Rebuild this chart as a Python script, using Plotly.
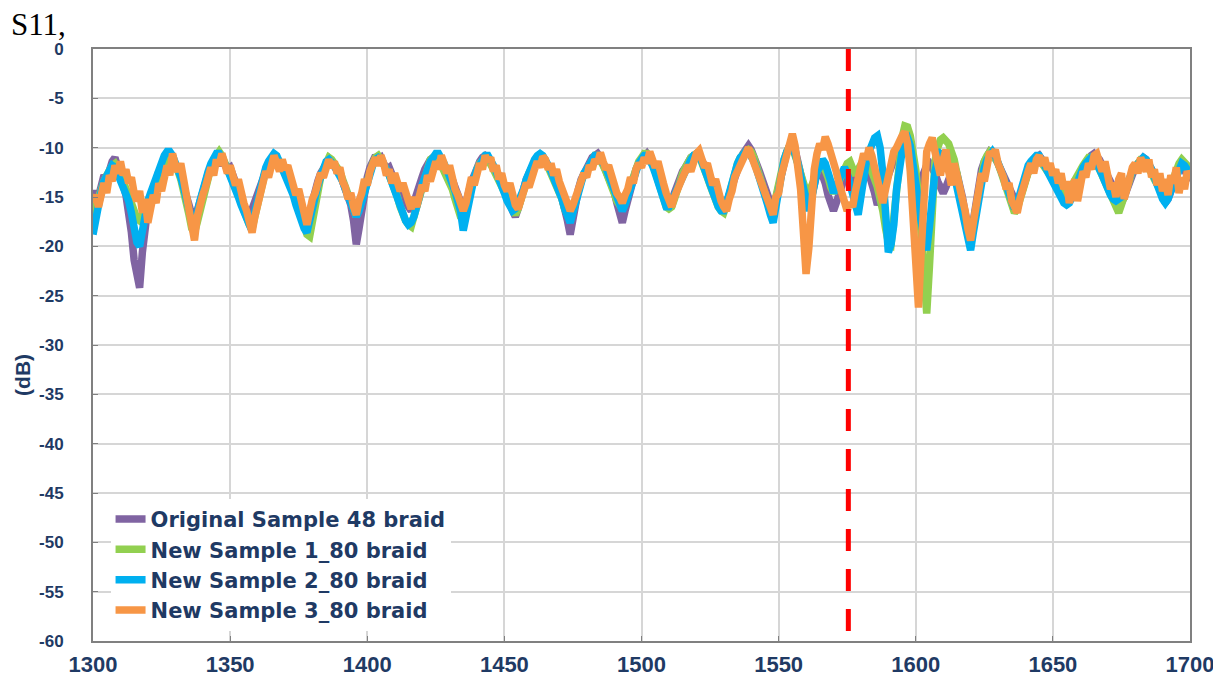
import plotly.graph_objects as go

# Frequency axis (MHz), 1 MHz step
freq_mhz = list(range(1300, 1701))

gps_l1_mhz = 1575.42

series_names = ["Original Sample 48 braid", "New Sample 1_80 braid",
                "New Sample 2_80 braid", "New Sample 3_80 braid"]

original_48 = [
    -15.2, -14.4, -15.0, -13.4, -12.8, -13.2, -12.0, -11.4, -11.0, -12.2,
    -12.6, -13.8, -14.8, -16.4, -18.6, -21.4, -23.4, -24.2, -20.6, -17.2,
    -16.0, -15.2, -14.0, -13.6, -12.4, -12.8, -11.6, -11.2, -11.8, -11.0,
    -12.2, -11.8, -13.0, -13.8, -14.6, -15.8, -16.8, -17.6, -16.4, -15.2,
    -14.2, -13.6, -12.6, -12.2, -11.6, -11.2, -11.8, -11.0, -11.6, -12.2,
    -12.0, -12.8, -13.6, -14.0, -15.0, -15.8, -16.6, -17.0, -16.2, -15.4,
    -14.6, -13.6, -12.8, -12.0, -11.6, -11.2, -11.0, -11.4, -12.0, -11.6,
    -12.4, -12.8, -13.6, -14.4, -15.2, -15.8, -16.6, -17.2, -17.6, -16.4,
    -15.4, -14.2, -13.4, -12.6, -12.0, -11.6, -11.2, -11.6, -12.0, -12.4,
    -12.6, -13.4, -14.2, -15.0, -15.8, -17.4, -19.8, -18.2, -16.0, -14.2,
    -13.0, -12.0, -11.4, -10.8, -11.2, -11.0, -11.6, -12.2, -12.0, -13.0,
    -13.4, -14.0, -14.6, -15.2, -15.6, -16.0, -16.4, -15.4, -14.6, -13.8,
    -13.0, -12.2, -11.6, -11.2, -11.0, -10.8, -11.2, -11.6, -12.0, -12.4,
    -12.6, -13.2, -14.0, -14.8, -15.6, -16.2, -15.6, -14.2, -13.4, -12.8,
    -12.0, -11.4, -11.0, -10.8, -11.0, -11.4, -12.0, -12.4, -12.8, -13.4,
    -14.0, -14.8, -15.6, -16.4, -17.0, -16.2, -15.0, -14.0, -13.2, -12.6,
    -12.0, -11.4, -11.0, -10.8, -11.0, -11.4, -11.8, -12.2, -12.6, -13.2,
    -14.0, -15.0, -16.0, -17.4, -18.8, -17.0, -15.4, -14.2, -13.2, -12.6,
    -12.0, -11.4, -11.0, -10.8, -10.6, -11.0, -11.6, -12.2, -12.8, -13.6,
    -14.4, -15.6, -16.8, -17.6, -16.4, -15.2, -14.0, -13.0, -12.2, -11.6,
    -11.2, -10.8, -10.6, -11.0, -11.6, -12.2, -12.8, -13.4, -14.2, -15.0,
    -15.8, -15.4, -14.6, -13.8, -13.0, -12.4, -12.0, -11.4, -11.0, -10.8,
    -10.6, -10.8, -11.2, -11.8, -12.4, -13.0, -13.6, -14.2, -14.8, -15.4,
    -16.0, -15.6, -14.8, -13.8, -12.8, -12.0, -11.2, -10.6, -10.2, -9.8,
    -10.2, -10.8, -11.6, -12.4, -13.2, -14.0, -15.0, -15.8, -16.4, -15.2,
    -13.8, -12.6, -11.4, -10.4, -9.8, -9.6, -10.2, -11.4, -12.8, -14.4,
    -15.8, -16.2, -15.0, -13.6, -12.6, -12.0, -12.6, -13.6, -14.8, -16.0,
    -16.4, -15.6, -14.6, -13.6, -12.8, -12.2, -12.6, -13.4, -14.2, -13.6,
    -12.8, -12.2, -11.8, -12.6, -13.6, -14.6, -15.8, -15.2, -14.4, -13.6,
    -12.8, -12.0, -11.2, -10.4, -9.6, -9.0, -8.6, -9.4, -10.6, -12.0,
    -13.4, -14.0, -13.2, -12.4, -11.8, -11.6, -12.0, -12.6, -13.4, -14.2,
    -14.6, -14.0, -13.2, -12.4, -11.8, -12.6, -13.6, -15.0, -16.6, -18.2,
    -19.0, -17.4, -15.2, -13.4, -12.2, -11.4, -10.8, -10.4, -10.6, -11.0,
    -11.6, -12.2, -12.8, -13.6, -14.4, -15.0, -15.6, -15.8, -15.0, -14.0,
    -13.0, -12.2, -11.6, -11.2, -11.0, -10.8, -11.2, -11.6, -12.0, -12.4,
    -12.6, -13.0, -13.4, -13.8, -14.2, -14.6, -15.0, -14.8, -14.2, -13.4,
    -12.8, -12.2, -11.6, -11.2, -10.8, -10.6, -10.8, -11.2, -11.8, -12.4,
    -13.0, -13.6, -14.2, -14.8, -15.2, -15.6, -15.0, -14.2, -13.4, -12.6,
    -12.0, -11.6, -11.2, -11.0, -11.2, -11.6, -12.2, -12.8, -13.4, -14.2,
    -15.0, -15.6, -15.2, -14.4, -13.6, -12.8, -12.2, -11.8, -12.2, -12.8,
    -13.4,
]

new_1_80 = [
    -16.8, -15.8, -15.0, -14.2, -13.4, -12.8, -12.2, -11.8, -11.6, -12.0,
    -12.6, -13.4, -14.0, -14.8, -15.6, -16.4, -17.2, -17.4, -16.8, -16.2,
    -15.6, -15.0, -14.2, -13.6, -12.8, -12.2, -11.6, -11.2, -11.0, -11.4,
    -11.8, -12.4, -13.2, -14.2, -15.4, -16.8, -18.2, -18.6, -17.6, -16.4,
    -15.0, -13.8, -12.8, -12.0, -11.2, -10.6, -10.4, -10.8, -11.4, -12.0,
    -12.6, -13.2, -14.0, -14.8, -15.6, -16.4, -17.2, -17.8, -18.2, -17.0,
    -15.6, -14.2, -13.0, -12.2, -11.6, -11.0, -10.8, -11.0, -11.4, -11.8,
    -12.2, -13.0, -13.8, -14.6, -15.6, -16.4, -17.2, -18.0, -18.8, -19.0,
    -17.2, -15.6, -14.2, -13.0, -12.2, -11.4, -11.0, -11.2, -11.6, -12.0,
    -12.4, -13.2, -14.0, -15.0, -15.8, -16.6, -17.0, -16.2, -15.2, -14.0,
    -13.0, -12.2, -11.6, -11.0, -10.8, -11.2, -11.6, -12.2, -12.8, -13.4,
    -14.2, -15.0, -16.0, -16.8, -17.4, -17.8, -18.0, -17.0, -16.0, -14.8,
    -13.6, -12.6, -11.8, -11.2, -11.0, -10.8, -11.2, -11.8, -12.4, -12.8,
    -13.4, -14.2, -15.2, -16.2, -17.0, -17.2, -16.4, -15.0, -13.8, -12.8,
    -12.2, -11.6, -11.2, -11.0, -11.2, -11.6, -12.2, -12.8, -13.4, -14.0,
    -14.8, -15.4, -16.0, -16.6, -16.8, -16.2, -15.2, -14.2, -13.4, -12.6,
    -12.0, -11.4, -11.0, -10.8, -11.0, -11.4, -12.0, -12.6, -13.2, -13.8,
    -14.4, -15.2, -16.2, -17.0, -17.4, -16.4, -15.2, -14.2, -13.4, -12.8,
    -12.2, -11.6, -11.2, -10.8, -10.8, -11.2, -11.8, -12.4, -13.0, -13.8,
    -14.6, -15.4, -16.0, -16.2, -15.4, -14.6, -13.6, -12.8, -12.0, -11.4,
    -11.0, -10.6, -10.6, -11.0, -11.6, -12.4, -13.2, -14.2, -15.2, -16.0,
    -16.2, -16.0, -15.2, -14.2, -13.4, -12.6, -12.0, -11.4, -11.0, -10.8,
    -10.6, -10.8, -11.4, -12.2, -13.0, -13.8, -14.6, -15.2, -16.0, -16.4,
    -16.6, -15.8, -14.6, -13.4, -12.4, -11.6, -11.0, -10.6, -10.4, -10.2,
    -10.4, -11.0, -11.8, -12.8, -13.6, -14.6, -15.6, -16.2, -16.4, -15.0,
    -13.6, -12.4, -11.2, -10.4, -9.8, -10.0, -10.6, -11.6, -12.6, -13.6,
    -14.4, -14.6, -13.8, -13.0, -12.2, -11.8, -11.6, -12.2, -13.0, -14.0,
    -14.6, -14.0, -13.4, -12.6, -12.0, -11.6, -11.4, -12.0, -12.8, -12.2,
    -11.6, -11.2, -11.0, -11.6, -12.4, -13.2, -14.0, -15.0, -16.4, -18.2,
    -19.6, -19.8, -16.6, -13.4, -11.0, -9.0, -7.8, -7.9, -8.8, -10.2,
    -12.2, -15.0, -18.4, -22.6, -26.8, -22.0, -15.4, -11.4, -10.0, -9.2,
    -9.0, -9.2, -9.6, -10.4, -11.2, -12.6, -14.2, -15.8, -17.2, -18.6,
    -19.2, -17.6, -15.6, -13.8, -12.4, -11.4, -10.8, -10.4, -10.6, -11.0,
    -11.6, -12.4, -13.2, -14.2, -15.2, -16.0, -16.6, -16.2, -15.2, -14.0,
    -13.0, -12.2, -11.6, -11.2, -11.0, -11.2, -11.6, -12.0, -12.4, -12.8,
    -12.8, -13.2, -13.8, -14.2, -14.8, -14.6, -14.2, -13.8, -13.2, -12.6,
    -12.2, -11.8, -11.4, -11.0, -11.0, -11.2, -11.6, -12.2, -12.8, -13.4,
    -14.0, -14.8, -15.6, -16.2, -16.6, -15.8, -14.8, -13.8, -13.0, -12.4,
    -12.0, -11.6, -11.2, -11.2, -11.6, -12.0, -12.6, -13.2, -13.8, -14.4,
    -15.0, -15.2, -14.6, -13.8, -13.0, -12.2, -11.6, -11.2, -11.4, -11.8,
    -12.2,
]

new_2_80 = [
    -18.8, -17.0, -15.6, -14.4, -13.4, -12.8, -12.0, -11.8, -12.0, -12.6,
    -13.2, -13.8, -14.6, -15.4, -16.6, -18.0, -19.6, -20.0, -18.4, -16.6,
    -15.4, -14.6, -13.8, -13.0, -12.2, -11.4, -10.8, -10.4, -10.4, -10.8,
    -11.4, -12.2, -13.0, -14.0, -15.2, -16.4, -17.4, -17.2, -16.6, -15.4,
    -14.2, -13.2, -12.4, -11.6, -11.0, -10.6, -10.6, -11.0, -11.6, -12.2,
    -12.8, -13.4, -14.2, -15.0, -15.8, -16.6, -17.4, -17.8, -17.6, -16.4,
    -15.0, -13.8, -12.8, -12.0, -11.4, -10.8, -10.6, -10.8, -11.4, -12.0,
    -12.6, -13.2, -14.0, -14.8, -15.8, -16.8, -17.6, -18.2, -18.6, -17.6,
    -16.2, -15.0, -13.8, -12.8, -12.0, -11.4, -11.2, -11.4, -11.8, -12.4,
    -12.8, -13.4, -14.2, -15.0, -15.8, -16.6, -17.0, -16.4, -15.4, -14.2,
    -13.4, -12.6, -11.8, -11.2, -11.0, -11.2, -11.6, -12.2, -12.8, -13.6,
    -14.4, -15.2, -16.0, -16.8, -17.4, -17.8, -17.6, -17.0, -16.2, -15.0,
    -13.8, -12.8, -12.0, -11.4, -11.0, -10.6, -10.6, -11.0, -11.6, -12.2,
    -12.8, -13.6, -14.4, -15.4, -16.4, -18.4, -17.0, -15.4, -14.0, -13.0,
    -12.2, -11.6, -11.2, -10.8, -10.8, -11.2, -11.8, -12.4, -13.0, -13.8,
    -14.6, -15.4, -16.0, -16.4, -16.2, -15.6, -15.0, -14.2, -13.2, -12.4,
    -11.8, -11.2, -10.8, -10.6, -10.8, -11.2, -11.8, -12.4, -13.0, -13.6,
    -14.4, -15.2, -16.2, -17.0, -17.6, -16.6, -15.4, -14.2, -13.2, -12.6,
    -12.2, -11.6, -11.2, -10.8, -10.8, -11.2, -11.6, -12.0, -12.8, -13.6,
    -14.4, -15.2, -16.0, -16.4, -15.8, -15.0, -14.0, -13.0, -12.2, -11.6,
    -11.2, -10.8, -10.8, -11.2, -11.8, -12.6, -13.4, -14.4, -15.2, -16.0,
    -16.0, -15.4, -14.8, -14.0, -13.2, -12.6, -12.2, -11.6, -11.2, -10.8,
    -10.8, -11.0, -11.4, -12.2, -13.0, -13.8, -14.6, -15.4, -16.0, -16.4,
    -16.4, -15.6, -14.4, -13.4, -12.4, -11.6, -11.0, -10.6, -10.4, -10.4,
    -10.8, -11.4, -12.2, -13.0, -13.8, -14.8, -15.8, -16.8, -17.6, -16.0,
    -14.0, -12.4, -11.2, -10.4, -10.0, -10.2, -10.6, -11.6, -12.8, -14.2,
    -15.6, -16.4, -15.2, -13.6, -12.4, -12.0, -11.2, -11.6, -12.4, -13.4,
    -14.6, -14.0, -13.0, -12.4, -12.0, -12.6, -13.6, -14.8, -16.2, -16.8,
    -15.0, -13.0, -11.4, -10.4, -9.6, -9.0, -8.8, -10.0, -12.6, -16.4,
    -20.6, -19.8, -17.8, -14.2, -12.0, -10.4, -9.2, -9.0, -9.8, -11.4,
    -13.0, -15.4, -17.6, -19.6, -20.4, -18.0, -14.8, -12.4, -11.2, -10.6,
    -10.8, -11.6, -12.2, -11.8, -12.6, -14.0, -15.4, -16.8, -18.2, -19.6,
    -20.4, -18.6, -17.0, -14.8, -13.2, -12.0, -11.2, -10.6, -10.4, -10.8,
    -11.4, -12.2, -13.0, -13.8, -14.8, -15.6, -16.2, -15.6, -14.6, -13.6,
    -12.6, -11.8, -11.4, -11.0, -10.8, -10.8, -11.2, -11.8, -12.4, -13.0,
    -13.4, -13.8, -14.4, -15.0, -15.6, -15.8, -15.6, -15.0, -14.2, -13.4,
    -12.6, -12.0, -11.6, -11.2, -11.0, -11.2, -11.6, -12.2, -12.8, -13.6,
    -14.2, -14.8, -15.2, -15.4, -15.2, -15.0, -14.4, -13.6, -13.0, -12.4,
    -12.0, -11.6, -11.2, -11.0, -11.2, -11.6, -12.2, -13.0, -13.8, -14.6,
    -15.2, -15.6, -15.2, -14.4, -13.6, -12.8, -12.0, -11.6, -11.8, -12.2,
    -12.6,
]

new_3_80 = [
    -15.6, -14.8, -16.0, -14.2, -13.6, -14.6, -12.8, -13.4, -11.8, -12.6,
    -11.4, -12.8, -12.2, -13.6, -13.0, -14.6, -15.4, -14.4, -16.6, -15.2,
    -17.6, -16.2, -14.8, -15.6, -13.6, -14.4, -12.6, -11.8, -12.8, -10.6,
    -11.8, -12.4, -11.6, -13.2, -14.0, -15.6, -17.2, -19.4, -17.0, -15.6,
    -14.8, -14.0, -13.2, -12.0, -12.8, -11.2, -11.8, -10.6, -11.6, -12.6,
    -11.8, -13.0, -13.8, -13.2, -14.6, -15.6, -16.4, -17.4, -18.6, -17.0,
    -15.8, -14.2, -13.6, -12.4, -13.0, -11.6, -10.8, -11.6, -12.4, -11.2,
    -12.2, -11.8, -13.0, -13.6, -14.8, -14.2, -15.8, -16.6, -17.8, -16.4,
    -15.2, -14.6, -13.4, -12.6, -13.0, -11.8, -11.2, -12.0, -11.4, -12.6,
    -12.0, -13.4, -14.0, -15.2, -14.6, -16.0, -16.8, -15.4, -14.6, -13.2,
    -13.8, -12.4, -11.6, -11.0, -11.8, -10.8, -11.6, -12.8, -12.2, -13.6,
    -12.6, -13.8, -14.4, -13.6, -14.8, -15.4, -16.2, -15.0, -16.0, -14.6,
    -13.8, -14.4, -12.8, -13.4, -12.0, -11.4, -12.2, -10.8, -11.6, -12.6,
    -11.8, -13.4, -14.2, -14.8, -15.6, -16.4, -15.6, -14.4, -13.0, -13.8,
    -12.4, -11.6, -12.2, -10.8, -11.4, -11.0, -12.4, -11.8, -13.2, -12.6,
    -13.8, -14.4, -13.6, -15.2, -15.8, -16.2, -15.4, -14.2, -13.6, -14.0,
    -12.8, -12.2, -11.4, -12.0, -10.9, -11.2, -12.2, -11.6, -12.8, -12.2,
    -13.4, -14.2, -14.8, -15.6, -16.4, -15.8, -15.0, -14.0, -13.4, -12.6,
    -13.0, -11.8, -12.2, -11.2, -11.6, -10.5, -11.4, -12.2, -11.8, -13.0,
    -13.6, -14.6, -15.0, -15.6, -14.8, -14.2, -13.0, -13.6, -12.2, -11.6,
    -12.0, -11.0, -11.6, -10.4, -11.2, -12.0, -11.4, -12.8, -13.6, -14.6,
    -15.6, -16.0, -15.0, -14.2, -13.6, -13.0, -12.4, -11.8, -12.4, -11.2,
    -10.6, -10.3, -11.4, -12.0, -11.6, -13.0, -13.8, -13.2, -14.6, -15.4,
    -16.0, -16.4, -15.2, -14.4, -13.0, -12.4, -11.6, -11.0, -10.6, -10.0,
    -10.8, -11.6, -12.4, -13.0, -13.8, -14.6, -15.4, -16.2, -16.8, -15.0,
    -14.6, -12.8, -11.6, -10.4, -9.2, -8.6, -9.8, -11.6, -14.2, -18.4,
    -22.8, -20.2, -15.4, -12.2, -10.6, -9.6, -10.2, -8.9, -9.6, -10.4,
    -11.2, -12.4, -13.6, -14.4, -15.4, -16.4, -15.6, -16.0, -14.4, -12.8,
    -11.8, -10.6, -11.2, -10.0, -10.8, -12.2, -13.6, -14.8, -15.6, -14.2,
    -12.8, -11.6, -10.4, -10.0, -9.2, -8.8, -8.4, -9.6, -12.4, -17.2,
    -23.4, -26.2, -20.4, -13.6, -10.4, -9.6, -9.0, -10.4, -11.6, -12.8,
    -11.2, -10.2, -12.4, -13.8, -11.6, -12.8, -13.6, -15.0, -16.4, -18.2,
    -19.4, -17.6, -15.6, -13.8, -12.6, -13.4, -11.4, -10.4, -10.8, -10.2,
    -11.6, -12.2, -13.0, -14.2, -13.6, -15.4, -16.0, -16.6, -15.2, -14.0,
    -13.2, -12.4, -11.6, -12.6, -11.2, -10.8, -11.8, -11.0, -12.2, -11.6,
    -12.8, -12.2, -13.6, -12.6, -14.2, -13.4, -15.6, -14.0, -13.2, -15.4,
    -14.2, -12.4, -13.0, -11.6, -12.2, -10.8, -10.6, -11.8, -12.4, -11.4,
    -12.8, -14.2, -13.6, -15.0, -13.2, -12.6, -15.2, -14.0, -12.8, -12.0,
    -11.6, -12.6, -11.0, -11.8, -12.4, -11.2, -13.0, -12.2, -13.8, -12.6,
    -14.4, -13.2, -14.8, -12.8, -13.6, -12.0, -14.6, -13.0, -14.2, -12.4,
    -13.0,
]

series_values = [original_48, new_1_80, new_2_80, new_3_80]
series_colors = ["#8064A2", "#92D050", "#00B0F0", "#F79646"]

x_ticks = [1300, 1350, 1400, 1450, 1500, 1550, 1600, 1650, 1700]
y_ticks = list(range(-60, 1, 5))

NAVY = "#1F3A64"

fig = go.Figure()
for name, vals, col in zip(series_names, series_values, series_colors):
    fig.add_trace(go.Scatter(
        x=freq_mhz, y=vals, name=name, mode="lines",
        line=dict(color=col, width=7.5),
    ))

# dashed marker drawn from the top down so the dash pattern starts at 0 dB
fig.add_shape(type="line", x0=gps_l1_mhz, x1=gps_l1_mhz, y0=0, y1=-60,
              xref="x", yref="y", layer="above",
              line=dict(color="#FF0000", width=5, dash="22px,18px"))

# the page body has an 8px margin, so the figure is 8px smaller each way
fig.update_layout(
    width=1213, height=676,
    margin=dict(l=85, r=31, t=41, b=43),
    paper_bgcolor="white", plot_bgcolor="white",
    showlegend=True,
    legend=dict(
        x=0.016, y=0.24, xanchor="left", yanchor="top",
        bgcolor="white", borderwidth=0,
        font=dict(family="DejaVu Sans", size=21, color=NAVY, weight="bold"),
        tracegroupgap=0, itemwidth=30,
    ),
    font=dict(family="Liberation Sans, Arial", color=NAVY),
)

fig.update_xaxes(
    range=[1300, 1700], tickvals=x_ticks,
    ticktext=[f"<b>{v}</b>" for v in x_ticks],
    tickfont=dict(size=22, color=NAVY),
    ticklabelstandoff=3, automargin=False,
    showgrid=True, gridcolor="#D6D6D6", gridwidth=1.5,
    showline=True, linecolor="#808080", linewidth=2, mirror=True,
    ticks="inside", ticklen=5, tickcolor="#808080",
    zeroline=False,
)
fig.update_yaxes(
    range=[-60, 0], tickvals=y_ticks,
    ticktext=[f"<b>{v}</b>" for v in y_ticks],
    tickfont=dict(size=17, color=NAVY),
    ticklabelstandoff=24, automargin=False,
    showgrid=True, gridcolor="#D6D6D6", gridwidth=1.5,
    showline=True, linecolor="#808080", linewidth=2, mirror=True,
    ticks="inside", ticklen=5, tickcolor="#808080",
    zeroline=False,
)

fig.add_annotation(text="S11,", xref="paper", yref="paper",
                   x=-0.0765, y=1.075, xanchor="left", yanchor="top",
                   showarrow=False,
                   font=dict(family="Liberation Serif, Times New Roman", size=31, color="black"))
fig.add_annotation(text="<b>(dB)</b>", xref="paper", yref="paper",
                   x=-0.065, y=0.449, xanchor="center", yanchor="middle",
                   textangle=-90, showarrow=False,
                   font=dict(family="Liberation Sans, Arial", size=21, color=NAVY))

fig.write_html("out.html")
